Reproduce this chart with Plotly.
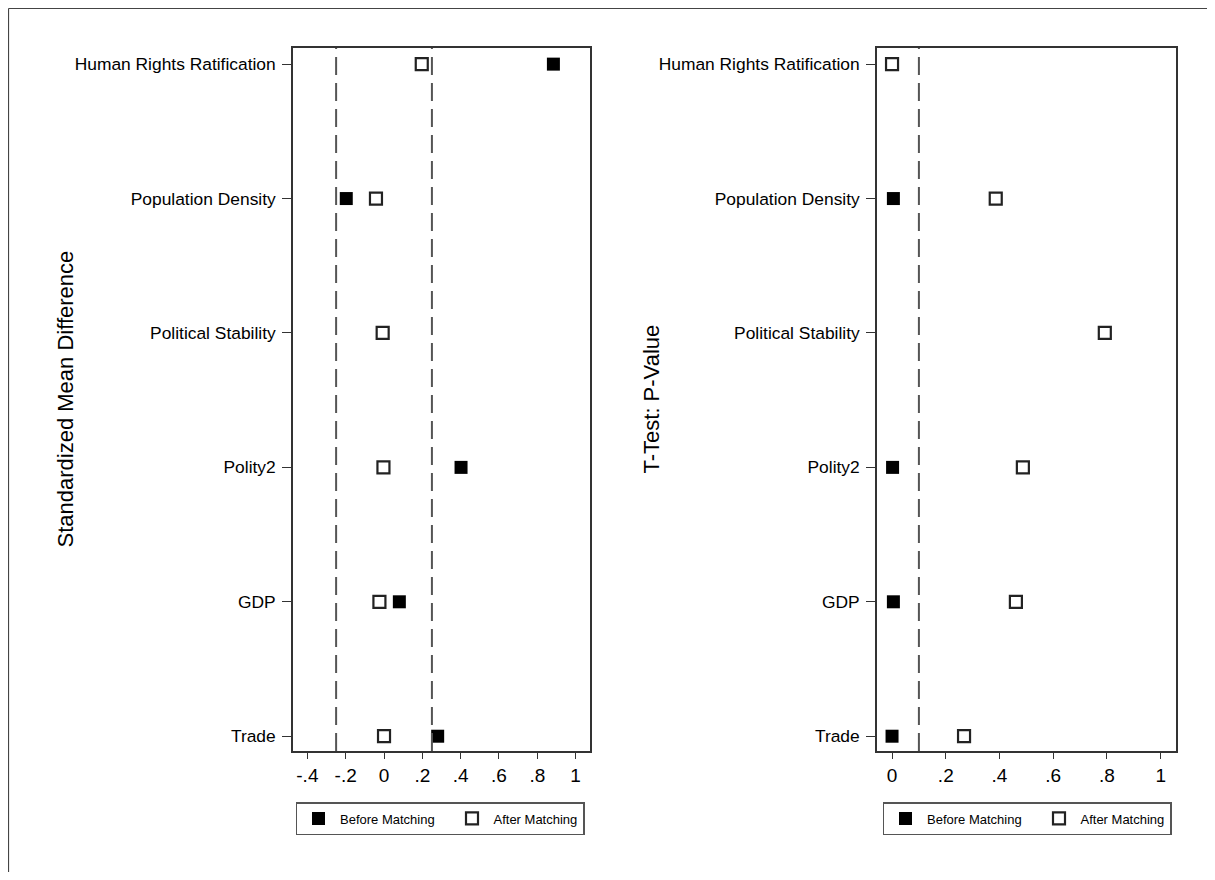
import plotly.graph_objects as go

categories = ["Human Rights Ratification", "Population Density", "Political Stability",
              "Polity2", "GDP", "Trade"]
smd_before = [0.884, -0.197, None, 0.402, 0.08, 0.28]
smd_after = [0.197, -0.042, -0.007, -0.003, -0.024, 0.0]
pval_before = [0.0, 0.005, None, 0.002, 0.005, 0.0]
pval_after = [0.0, 0.386, 0.792, 0.487, 0.461, 0.268]
smd_ticks = [-0.4, -0.2, 0, 0.2, 0.4, 0.6, 0.8, 1]
smd_ticklabels = ["-.4", "-.2", "0", ".2", ".4", ".6", ".8", "1"]
p_ticks = [0, 0.2, 0.4, 0.6, 0.8, 1]
p_ticklabels = ["0", ".2", ".4", ".6", ".8", "1"]
smd_threshold = [-0.25, 0.25]
p_threshold = [0.1]

FONT = "Liberation Sans, Arial, Helvetica, sans-serif"
W, H = 1199, 864  # page body has an 8px margin
ypos = list(range(len(categories)))[::-1]

filled = dict(symbol="square", size=13, color="black", line=dict(width=0))
hollow = dict(symbol="square", size=12, color="white", line=dict(width=2.2, color="#222"))
NB = "\u00a0" * 3

fig = go.Figure()
fig.add_trace(go.Scatter(x=smd_before, y=ypos, mode="markers", marker=filled,
                         name="Before Matching" + NB, xaxis="x", yaxis="y", legend="legend"))
fig.add_trace(go.Scatter(x=smd_after, y=ypos, mode="markers", marker=hollow,
                         name="After Matching", xaxis="x", yaxis="y", legend="legend"))
fig.add_trace(go.Scatter(x=pval_before, y=ypos, mode="markers", marker=filled,
                         name="Before Matching" + NB, xaxis="x2", yaxis="y2", legend="legend2"))
fig.add_trace(go.Scatter(x=pval_after, y=ypos, mode="markers", marker=hollow,
                         name="After Matching", xaxis="x2", yaxis="y2", legend="legend2"))

shapes = []
for t in smd_threshold:
    shapes.append(dict(type="line", xref="x", yref="y domain", x0=t, x1=t, y0=0, y1=1,
                       line=dict(color="#555", width=2, dash="18px,8px")))
for t in p_threshold:
    shapes.append(dict(type="line", xref="x2", yref="y2 domain", x0=t, x1=t, y0=0, y1=1,
                       line=dict(color="#555", width=2, dash="18px,8px")))
# outer frame (top and left edges visible)
shapes.append(dict(type="line", xref="paper", yref="paper", x0=0.5/W, x1=1.0,
                   y0=1-0.5/H, y1=1-0.5/H, line=dict(color="#444", width=1.2)))
shapes.append(dict(type="line", xref="paper", yref="paper", x0=0.5/W, x1=0.5/W,
                   y0=0, y1=1-0.5/H, line=dict(color="#444", width=1.2)))

xcommon = dict(showgrid=False, zeroline=False, showline=True, linecolor="#333", linewidth=1.6,
               mirror=True, ticks="outside", ticklen=6, tickwidth=1.3, tickcolor="#333",
               tickfont=dict(family=FONT, size=19, color="black"))
ycommon = dict(showgrid=False, zeroline=False, showline=True, linecolor="#333", linewidth=1.6,
               mirror=True, ticks="outside", ticklen=9, tickwidth=1.3, tickcolor="#333",
               tickvals=ypos, ticktext=categories, range=[-0.11, 5.12],
               ticklabelstandoff=3,
               tickfont=dict(family=FONT, size=17.4, color="black"))

legcommon = dict(orientation="h", xanchor="center", yanchor="top",
                 bordercolor="#555", borderwidth=1.5, bgcolor="white",
                 font=dict(family=FONT, size=13, color="black"),
                 itemwidth=33, tracegroupgap=0)

ydom = [1-743/H, 1-40/H]
fig.update_layout(
    width=W, height=H,
    margin=dict(l=0, r=0, t=0, b=0),
    paper_bgcolor="white", plot_bgcolor="white",
    showlegend=True,
    xaxis=dict(domain=[285/W, 582/W], range=[-0.475, 1.075], tickvals=smd_ticks,
               ticktext=smd_ticklabels, anchor="y", **xcommon),
    yaxis=dict(domain=ydom, anchor="x", **ycommon),
    xaxis2=dict(domain=[869/W, 1168/W], range=[-0.056, 1.057], tickvals=p_ticks,
                ticktext=p_ticklabels, anchor="y2", **xcommon),
    yaxis2=dict(domain=ydom, anchor="x2", **ycommon),
    legend=dict(x=432/W, y=1-794/H, **legcommon),
    legend2=dict(x=1019/W, y=1-794/H, **legcommon),
    shapes=shapes,
    annotations=[
        dict(text="Standardized Mean Difference", textangle=-90, xref="paper", yref="paper",
             x=57/W, y=(ydom[0]+ydom[1])/2, xanchor="center", yanchor="middle",
             showarrow=False, font=dict(family=FONT, size=22, color="black")),
        dict(text="T-Test: P-Value", textangle=-90, xref="paper", yref="paper",
             x=643/W, y=(ydom[0]+ydom[1])/2, xanchor="center", yanchor="middle",
             showarrow=False, font=dict(family=FONT, size=22, color="black")),
    ],
)

fig.write_html("out.html")
